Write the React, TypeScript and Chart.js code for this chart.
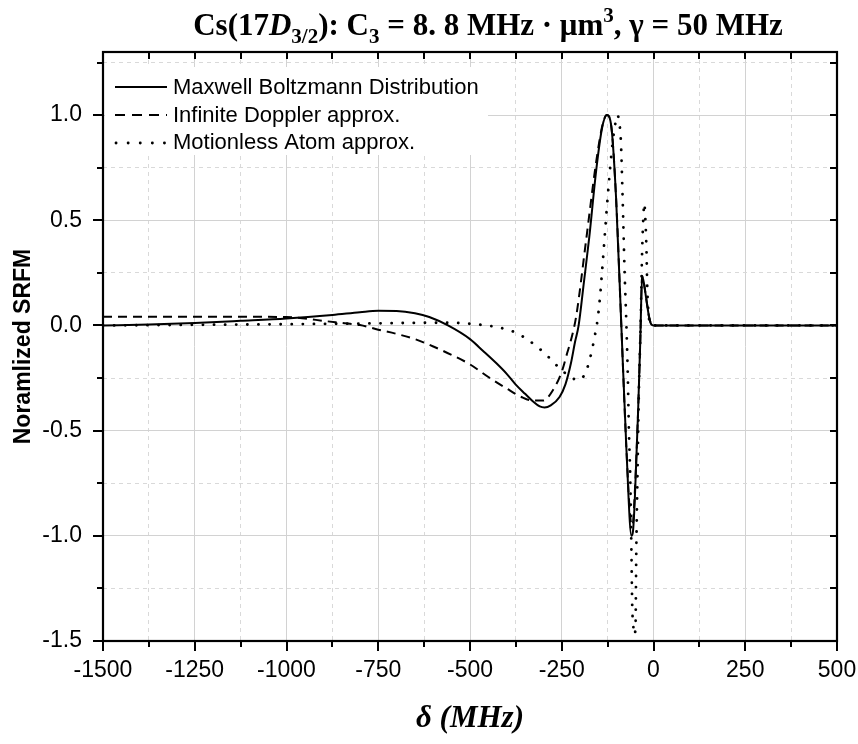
import React, { useEffect, useRef } from 'react';
import { Chart, registerables } from 'chart.js';

Chart.register(...registerables);

// Maxwell Boltzmann Distribution (solid)
const mbDelta = [-1500, -1375, -1250, -1125, -1000, -875, -800, -750, -700, -650, -611, -560, -500, -465, -428, -400, -376, -350, -329, -310, -297, -280, -256, -240, -225, -214, -204, -190, -175, -156, -140, -127, -115, -102, -88, -74, -60, -56, -51, -42, -36, -31, -26, -20, -12, -6, 0, 250, 500];
const mbValues = [0.0, 0.005, 0.012, 0.022, 0.033, 0.05, 0.063, 0.07, 0.069, 0.058, 0.04, 0.0, -0.065, -0.12, -0.18, -0.23, -0.28, -0.325, -0.36, -0.385, -0.39, -0.38, -0.34, -0.28, -0.18, -0.08, 0.0, 0.2, 0.42, 0.74, 0.94, 1.0, 0.946, 0.607, 0.014, -0.58, -1.0, -0.98, -0.83, -0.41, -0.07, 0.234, 0.2, 0.13, 0.04, 0.005, 0.0, 0.0, 0.0];

// Infinite Doppler approx. (dashed)
const idDelta = [-1500, -1250, -1000, -950, -900, -850, -800, -750, -700, -650, -600, -550, -500, -450, -400, -360, -330, -300, -275, -250, -235, -225, -211, -184, -156, -138, -127, -115, -102, -88, -74, -62, -57, -52, -42, -36, -31, -26, -20, -12, -6, 0, 250, 500];
const idValues = [0.042, 0.042, 0.04, 0.033, 0.022, 0.012, 0.002, -0.02, -0.04, -0.065, -0.1, -0.14, -0.185, -0.245, -0.3, -0.34, -0.357, -0.357, -0.31, -0.22, -0.13, -0.07, 0.04, 0.4, 0.78, 0.96, 1.0, 0.946, 0.607, 0.014, -0.58, -0.93, -0.95, -0.83, -0.41, -0.07, 0.234, 0.2, 0.13, 0.04, 0.005, 0.0, 0.0, 0.0];

// Motionless Atom approx. (dotted)
const maDelta = [-1500, -1250, -1000, -750, -600, -556, -500, -455, -420, -398, -374, -341, -311, -286, -258, -230, -205, -190, -180, -168, -160, -153, -146, -140, -134, -128, -122, -116, -110, -104, -98, -93, -89, -84, -79, -74, -70, -67, -63, -60, -58, -55, -52, -49, -47, -44, -40, -35, -31, -28, -25, -22, -19, -17, -12, -6, 0, 250, 500];
const maValues = [0.0, 0.003, 0.006, 0.01, 0.013, 0.013, 0.008, 0.0, -0.01, -0.02, -0.035, -0.07, -0.11, -0.15, -0.2, -0.24, -0.26, -0.24, -0.2, -0.12, -0.05, 0.02, 0.13, 0.26, 0.4, 0.54, 0.67, 0.79, 0.89, 0.96, 1.0, 0.96, 0.88, 0.6, 0.27, 0.01, -0.24, -0.5, -0.75, -1.09, -1.33, -1.43, -1.47, -1.43, -1.09, -0.75, -0.33, 0.01, 0.35, 0.5, 0.58, 0.5, 0.35, 0.18, 0.03, 0.0, 0.0, 0.0, 0.0];

const seriesLabels = ['Maxwell Boltzmann Distribution', 'Infinite Doppler approx.', 'Motionless Atom approx.'];

const xMin = -1500;
const xMax = 500;
const xStep = 125;
const xLabelStep = 250;
const yMin = -1.5;
const yMax = 1.3;
const yStep = 0.25;
const yLabelStep = 0.5;

const yTitle = 'Noramlized SRFM';
const xTitle = 'δ (MHz)';

const titleParts = [
  { t: 'Cs(17', italic: false, kind: 'n' },
  { t: 'D', italic: true, kind: 'n' },
  { t: '3/2', italic: false, kind: 'sub' },
  { t: '): C', italic: false, kind: 'n' },
  { t: '3', italic: false, kind: 'sub' },
  { t: ' = 8. 8 MHz · μm', italic: false, kind: 'n' },
  { t: '3', italic: false, kind: 'sup' },
  { t: ', γ = 50 MHz', italic: false, kind: 'n' },
];

const toPoints = (xs: number[], ys: number[]) => xs.map((x, i) => ({ x, y: ys[i] }));
const isMajorX = (v: number) => Math.abs(v / xLabelStep - Math.round(v / xLabelStep)) < 1e-9;
const isMajorY = (v: number) => Math.abs(v / yLabelStep - Math.round(v / yLabelStep)) < 1e-9;

const SANS = '"Liberation Sans", Arial, sans-serif';
const SERIF = '"Liberation Serif", "Times New Roman", serif';

const titlePlugin = {
  id: 'mathTitle',
  afterDraw(chart: any) {
    const ctx = chart.ctx;
    const size = 31;
    const fontFor = (p: any) => {
      const s = p.kind === 'n' ? size : Math.round(size * 0.68);
      return `${p.italic ? 'italic ' : ''}bold ${s}px ${SERIF}`;
    };
    ctx.save();
    let total = 0;
    const widths = titleParts.map((p) => {
      ctx.font = fontFor(p);
      const w = ctx.measureText(p.t).width;
      total += w;
      return w;
    });
    const cx = 488;
    let x = cx - total / 2;
    const baseY = 35;
    ctx.fillStyle = '#000';
    ctx.textBaseline = 'alphabetic';
    ctx.textAlign = 'left';
    titleParts.forEach((p, i) => {
      ctx.font = fontFor(p);
      const dy = p.kind === 'sub' ? size * 0.25 : p.kind === 'sup' ? -size * 0.42 : 0;
      ctx.fillText(p.t, x, baseY + dy);
      x += widths[i];
    });
    ctx.restore();
  },
};

const legendPlugin = {
  id: 'insideLegend',
  afterDatasetsDraw(chart: any) {
    const ctx = chart.ctx;
    const { left } = chart.chartArea;
    ctx.save();
    ctx.fillStyle = '#fff';
    ctx.fillRect(left + 2, 67, 383, 88);
    const rows = [87, 115, 142];
    chart.data.datasets.forEach((ds: any, i: number) => {
      const y = rows[i];
      ctx.strokeStyle = '#000';
      ctx.lineWidth = ds.borderWidth;
      ctx.lineCap = ds.borderCapStyle || 'butt';
      ctx.setLineDash(i === 0 ? [] : i === 1 ? [10, 7] : [0.1, 12]);
      ctx.beginPath();
      if (i === 2) {
        ctx.moveTo(left + 13, y + 1);
        ctx.lineTo(left + 64, y + 1);
      } else {
        ctx.moveTo(left + 12, y);
        ctx.lineTo(left + 64, y);
      }
      ctx.stroke();
      ctx.setLineDash([]);
      ctx.fillStyle = '#000';
      ctx.font = `22px ${SANS}`;
      ctx.textBaseline = 'middle';
      ctx.textAlign = 'left';
      ctx.fillText(ds.label, left + 70, y + 1);
    });
    ctx.restore();
  },
};

const framePlugin = {
  id: 'frameTicks',
  afterDatasetsDraw(chart: any) {
    const ctx = chart.ctx;
    const { left, right, top, bottom } = chart.chartArea;
    const xs = chart.scales.x;
    const ys = chart.scales.y;
    ctx.save();
    ctx.strokeStyle = '#000';
    ctx.setLineDash([]);
    ctx.lineWidth = 2;
    ctx.beginPath();
    xs.ticks.forEach((t: any) => {
      const px = Math.round(xs.getPixelForValue(t.value));
      const major = isMajorX(t.value);
      ctx.moveTo(px, bottom);
      ctx.lineTo(px, bottom + (major ? 10 : 6));
      ctx.moveTo(px, top);
      ctx.lineTo(px, top + 7);
    });
    ys.ticks.forEach((t: any) => {
      const py = Math.round(ys.getPixelForValue(t.value));
      const major = isMajorY(t.value);
      ctx.moveTo(left, py);
      ctx.lineTo(left - (major ? 10 : 6), py);
      ctx.moveTo(right, py);
      ctx.lineTo(right - 7, py);
    });
    ctx.stroke();
    ctx.lineWidth = 2.2;
    ctx.strokeRect(left, top, right - left, bottom - top);
    ctx.restore();
  },
};

export default function App() {
  const canvasRef = useRef<HTMLCanvasElement | null>(null);

  useEffect(() => {
    const canvas = canvasRef.current;
    if (!canvas) return;
    const gridColor = (c: any, major: (v: number) => boolean) =>
      c.tick && major(c.tick.value) ? '#d2d2d2' : '#d9d9d9';
    const gridDash = (c: any, major: (v: number) => boolean) =>
      c.tick && major(c.tick.value) ? [] : [4, 4];

    const chart = new Chart(canvas, {
      type: 'line',
      data: {
        datasets: [
          {
            label: seriesLabels[0],
            data: toPoints(mbDelta, mbValues),
            borderColor: '#000',
            borderWidth: 2,
            pointRadius: 0,
            cubicInterpolationMode: 'monotone',
            fill: false,
          },
          {
            label: seriesLabels[1],
            data: toPoints(idDelta, idValues),
            borderColor: '#000',
            borderWidth: 2,
            borderDash: [9, 6],
            pointRadius: 0,
            cubicInterpolationMode: 'monotone',
            fill: false,
          },
          {
            label: seriesLabels[2],
            data: toPoints(maDelta, maValues),
            borderColor: '#000',
            borderWidth: 2.8,
            borderDash: [0.1, 11],
            borderCapStyle: 'round',
            pointRadius: 0,
            cubicInterpolationMode: 'monotone',
            fill: false,
          },
        ],
      },
      options: {
        responsive: false,
        animation: false,
        layout: { padding: { top: 52, right: 21, left: 0, bottom: 0 } },
        plugins: {
          legend: { display: false },
          title: { display: false },
          tooltip: { enabled: false },
        },
        scales: {
          x: {
            type: 'linear',
            min: xMin,
            max: xMax,
            afterFit: (s: any) => {
              s.height = 103;
              s.paddingLeft = 0;
              s.paddingRight = 0;
            },
            ticks: {
              stepSize: xStep,
              autoSkip: false,
              maxRotation: 0,
              padding: 16,
              color: '#000',
              font: { family: SANS, size: 23 },
              callback: (v: any) => (isMajorX(Number(v)) ? String(v) : ''),
            },
            grid: {
              drawTicks: false,
              lineWidth: 1,
              color: (c: any) => gridColor(c, isMajorX),
            },
            border: {
              display: false,
              dash: (c: any) => gridDash(c, isMajorX),
            },
            title: {
              display: true,
              text: xTitle,
              color: '#000',
              font: { family: SERIF, size: 31, style: 'italic', weight: 'bold' },
              padding: { top: 0, bottom: 6 },
            },
          },
          y: {
            type: 'linear',
            min: yMin,
            max: yMax,
            afterFit: (s: any) => {
              s.width = 103;
              s.paddingTop = 0;
              s.paddingBottom = 0;
            },
            ticks: {
              stepSize: yStep,
              includeBounds: false,
              autoSkip: false,
              padding: 21,
              color: '#000',
              font: { family: SANS, size: 23 },
              callback: (v: any) => (isMajorY(Number(v)) ? Number(v).toFixed(1) : ''),
            },
            grid: {
              drawTicks: false,
              lineWidth: 1,
              color: (c: any) => gridColor(c, isMajorY),
            },
            border: {
              display: false,
              dash: (c: any) => gridDash(c, isMajorY),
            },
            title: {
              display: true,
              text: yTitle,
              color: '#000',
              font: { family: SANS, size: 23, weight: 'bold' },
              padding: { top: 10, bottom: 0 },
            },
          },
        },
      },
      plugins: [legendPlugin, framePlugin, titlePlugin],
    } as any);

    return () => chart.destroy();
  }, []);

  return (
    <div style={{ position: 'absolute', left: 0, top: 0, width: 858, height: 744, background: '#fff' }}>
      <canvas ref={canvasRef} width={858} height={744} style={{ display: 'block' }} />
    </div>
  );
}
